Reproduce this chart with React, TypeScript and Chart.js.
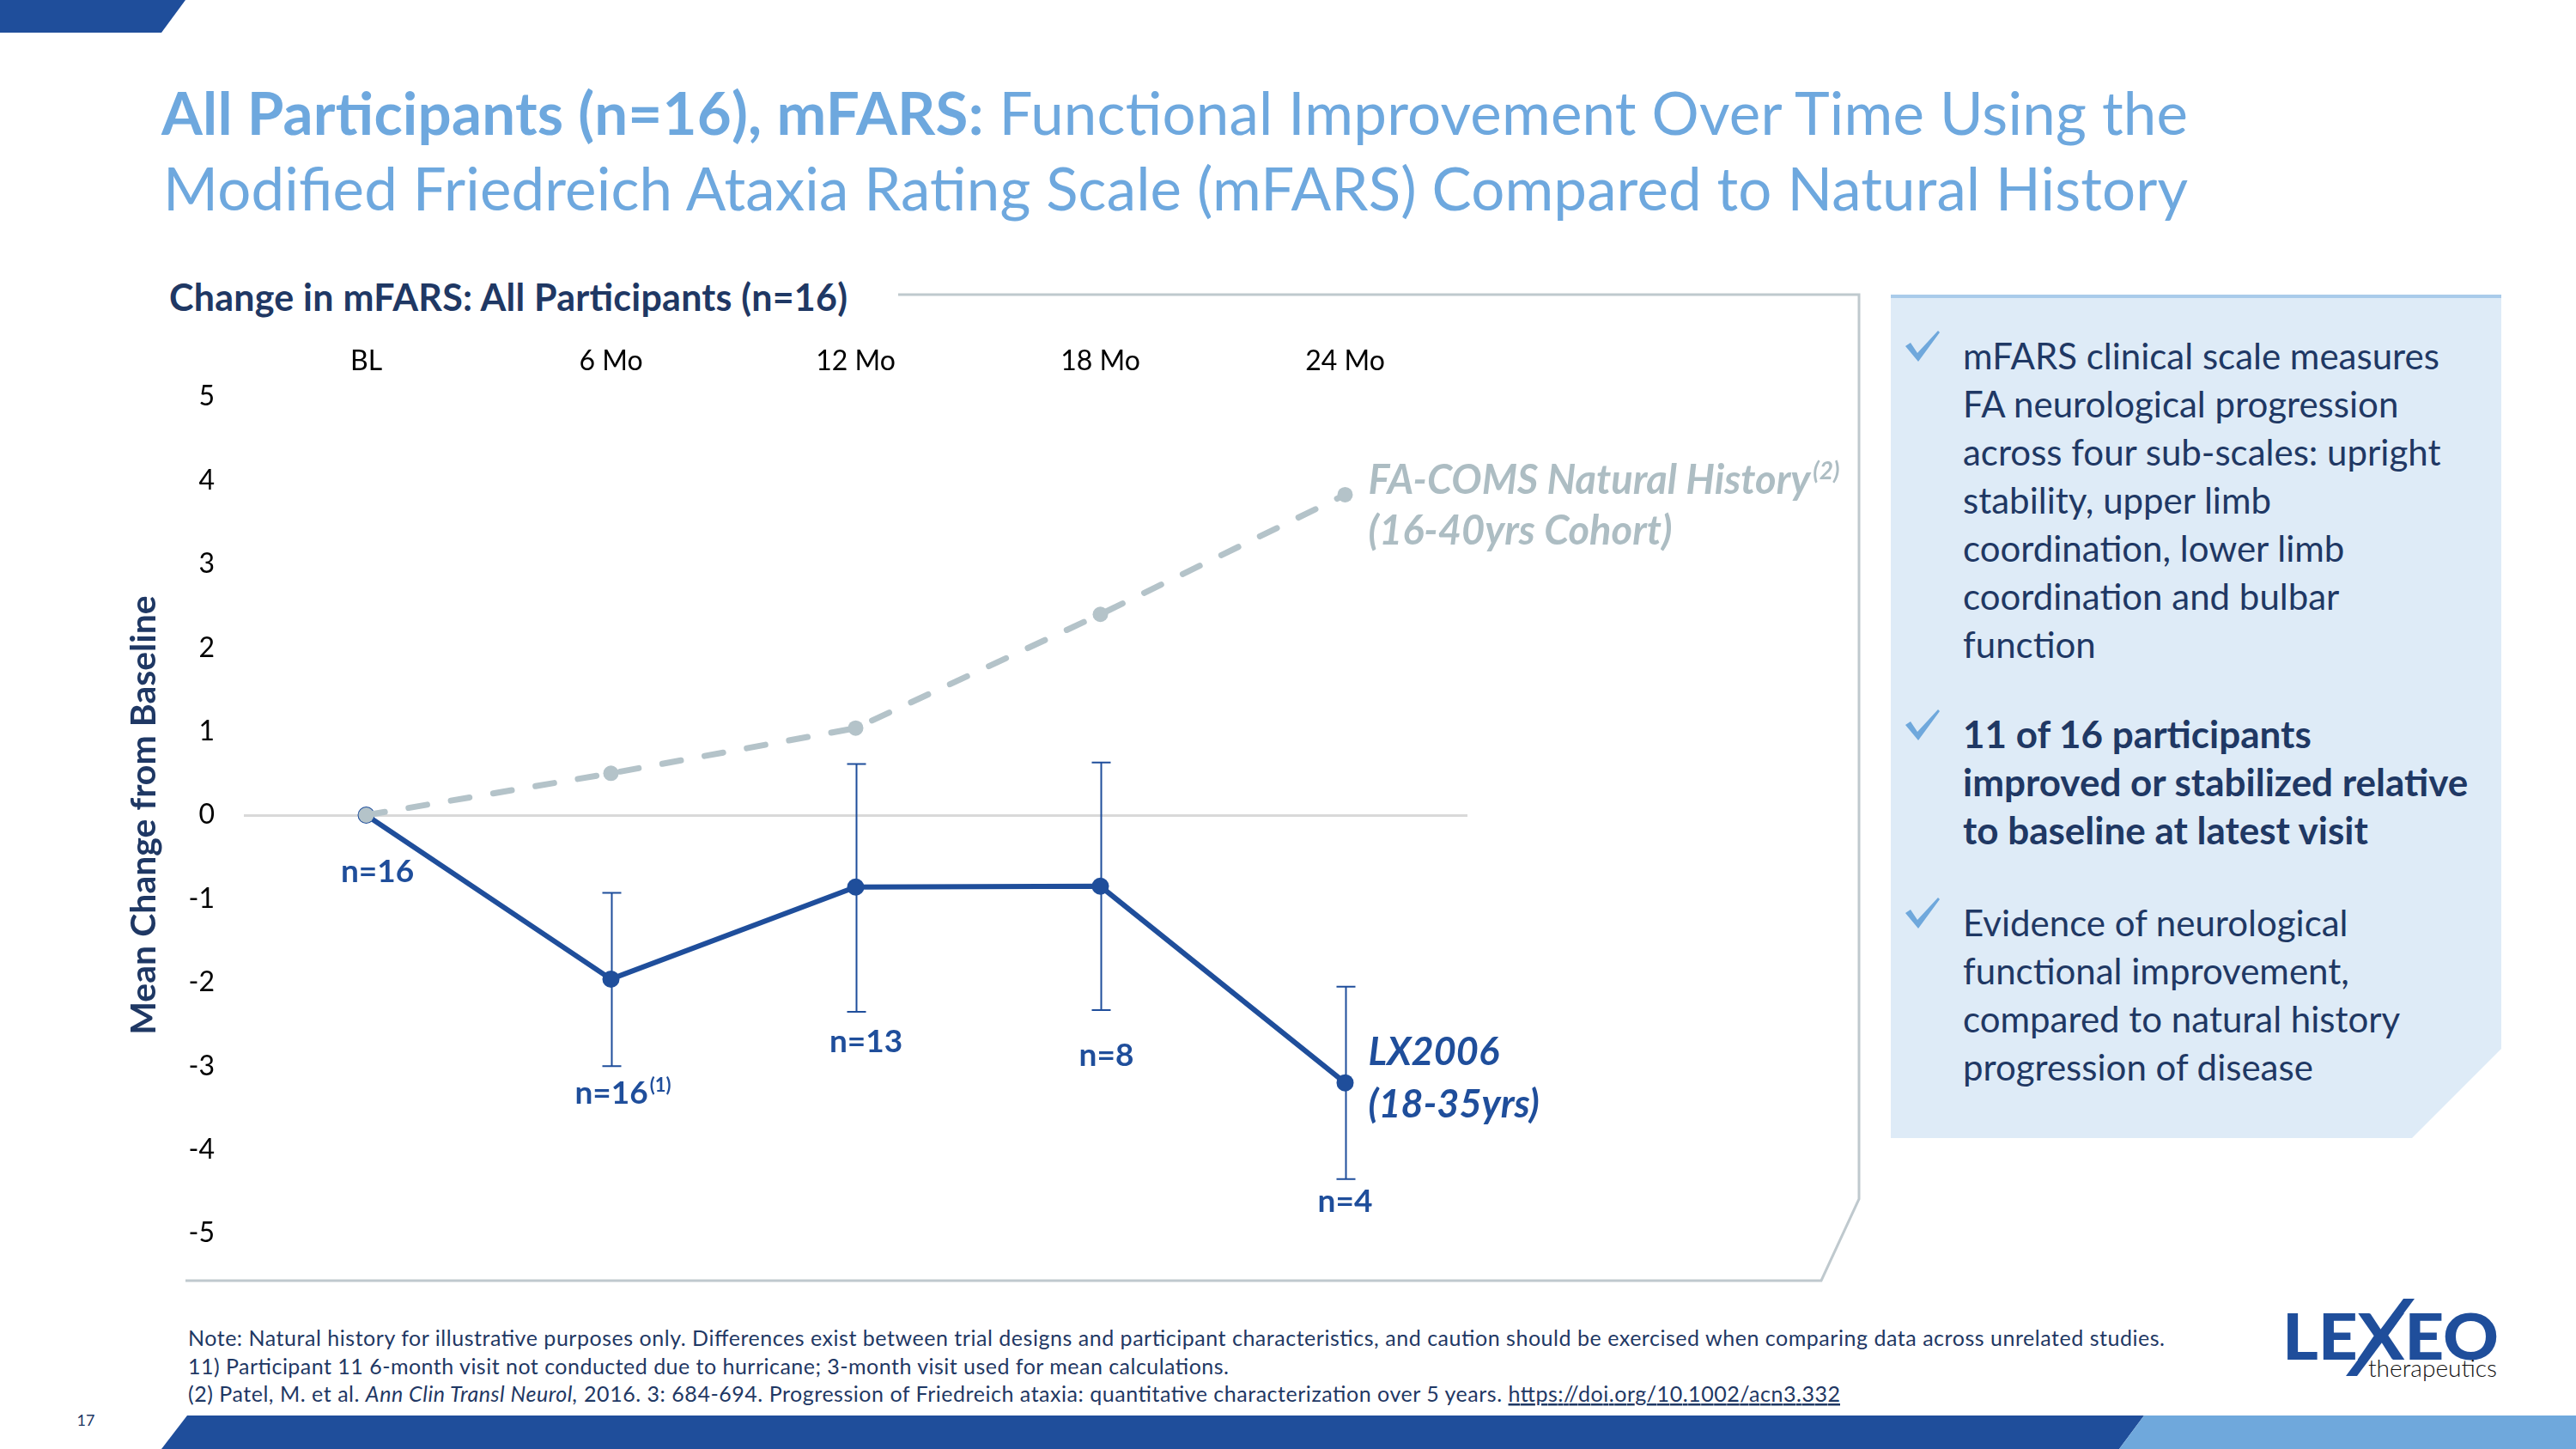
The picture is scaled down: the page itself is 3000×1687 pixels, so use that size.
import React, { useEffect, useRef } from "react";
import { Chart, registerables } from "chart.js";

Chart.register(...registerables);

// ---- data ----
const visits = ["BL", "6 Mo", "12 Mo", "18 Mo", "24 Mo"];
const lxMean = [0, -1.96, -0.86, -0.85, -3.2];
const lxErrLow: (number | null)[] = [null, -3.0, -2.35, -2.33, -4.35];
const lxErrHigh: (number | null)[] = [null, -0.93, 0.61, 0.63, -2.05];
const nhMean = [0, 0.5, 1.04, 2.4, 3.83];
const nCounts = ["n=16", "n=16", "n=13", "n=8", "n=4"];
const nNotes = ["", "(1)", "", "", ""];
const yMin = -5;
const yMax = 5;

const lxLines = ["LX2006", "(18-35yrs)"];
const nhLines = ["FA-COMS Natural History", "(16-40yrs Cohort)"];
const nhNote = "(2)";

const panelBullets = [
  {
    bold: false,
    lines: [
      "mFARS clinical scale measures",
      "FA neurological progression",
      "across four sub-scales: upright",
      "stability, upper limb",
      "coordination, lower limb",
      "coordination and bulbar",
      "function",
    ],
  },
  {
    bold: true,
    lines: ["11 of 16 participants", "improved or stabilized relative", "to baseline at latest visit"],
  },
  {
    bold: false,
    lines: [
      "Evidence of neurological",
      "functional improvement,",
      "compared to natural history",
      "progression of disease",
    ],
  },
];

// ---- styling / layout ----
const W = 3000;
const H = 1687;
const LX = "#1F4E9B";
const NH = "#B4C3C9";
const NH_TEXT = "#ADBDC3";
const NAVY = "#1F3864";
const TITLE_BLUE = "#6EA8DE";
const FONT = "Lato";
const AREA = { left: 284, right: 1709, top: 462, bottom: 1436 };
// pixel offsets (dx, baseline dy) of the n= labels from each LX2006 point
const nLabelOffsets = [
  [13, 78],
  [14, 145],
  [12, 192],
  [7, 209],
  [0, 150],
];
const bulletBaselines = [430, 871, 1090];
const LINE_STEP = 56;

const annotationPlugin = {
  id: "annotations",
  beforeDatasetsDraw(chart: any) {
    const { ctx, scales } = chart;
    const x = scales.x;
    const y = scales.y;
    ctx.save();
    ctx.strokeStyle = LX;
    ctx.lineWidth = 2;
    lxErrLow.forEach((lo, i) => {
      const hi = lxErrHigh[i];
      if (lo == null || hi == null) return;
      const px = Math.round(x.getPixelForValue(i)) + 0.5;
      const pHi = y.getPixelForValue(hi);
      const pLo = y.getPixelForValue(lo);
      ctx.beginPath();
      ctx.moveTo(px, pHi);
      ctx.lineTo(px, pLo);
      ctx.moveTo(px - 11, pHi);
      ctx.lineTo(px + 11, pHi);
      ctx.moveTo(px - 11, pLo);
      ctx.lineTo(px + 11, pLo);
      ctx.stroke();
    });
    ctx.restore();
  },
  afterDatasetsDraw(chart: any) {
    const { ctx } = chart;
    const nhMeta = chart.getDatasetMeta(0);
    const lxMeta = chart.getDatasetMeta(1);
    ctx.save();
    ctx.textBaseline = "alphabetic";

    // n= labels under the LX2006 points
    lxMeta.data.forEach((pt: any, i: number) => {
      const [dx, dy] = nLabelOffsets[i];
      ctx.font = `bold 37px ${FONT}`;
      const main = nCounts[i];
      const wMain = ctx.measureText(main).width;
      ctx.font = `bold 22px ${FONT}`;
      const wNote = nNotes[i] ? ctx.measureText(nNotes[i]).width + 2 : 0;
      const startX = pt.x + dx - (wMain + wNote) / 2;
      const base = pt.y + dy;
      ctx.fillStyle = LX;
      ctx.textAlign = "left";
      ctx.font = `bold 37px ${FONT}`;
      ctx.fillText(main, startX, base);
      if (nNotes[i]) {
        ctx.font = `bold 22px ${FONT}`;
        ctx.fillText(nNotes[i], startX + wMain + 2, base - 14);
      }
    });

    // series name next to the last point of each line
    const lastNh = nhMeta.data[nhMeta.data.length - 1];
    ctx.fillStyle = NH_TEXT;
    ctx.font = `italic bold 47px ${FONT}`;
    const nx = lastNh.x + 27;
    ctx.fillText(nhLines[0], nx, lastNh.y - 1);
    const w0 = ctx.measureText(nhLines[0]).width;
    ctx.fillText(nhLines[1], nx, lastNh.y + 58);
    ctx.font = `italic bold 28px ${FONT}`;
    ctx.fillText(nhNote, nx + w0 + 3, lastNh.y - 18);

    const lastLx = lxMeta.data[lxMeta.data.length - 1];
    ctx.fillStyle = LX;
    ctx.font = `italic bold 45px ${FONT}`;
    ctx.fillText(lxLines[0], lastLx.x + 27, lastLx.y - 21);
    ctx.fillText(lxLines[1], lastLx.x + 27, lastLx.y + 40);
    ctx.restore();
  },
};

function MfarsChart() {
  const ref = useRef<HTMLCanvasElement | null>(null);
  useEffect(() => {
    if (!ref.current) return;
    const tickFont = { family: FONT, size: 32 };
    const chart = new Chart(ref.current, {
      type: "line",
      data: {
        labels: visits,
        datasets: [
          {
            label: nhLines[0],
            data: nhMean,
            borderColor: NH,
            backgroundColor: NH,
            borderWidth: 7,
            borderDash: [22, 28],
            borderCapStyle: "round",
            pointRadius: 9,
            pointBackgroundColor: NH,
            pointBorderWidth: 0,
            tension: 0,
          },
          {
            label: lxLines[0],
            data: lxMean,
            borderColor: LX,
            backgroundColor: LX,
            borderWidth: 6,
            pointRadius: 10,
            pointBackgroundColor: LX,
            pointBorderWidth: 0,
            tension: 0,
          },
        ],
      },
      options: {
        responsive: false,
        animation: false,
        devicePixelRatio: 1,
        layout: {
          padding: { left: 120, top: AREA.top - 80, right: W - AREA.right, bottom: H - AREA.bottom },
        },
        plugins: { legend: { display: false }, tooltip: { enabled: false } },
        scales: {
          x: {
            position: "top",
            offset: true,
            grid: { display: false },
            border: { display: false },
            ticks: { font: tickFont, color: "#000", padding: 14, maxRotation: 0 },
            afterFit: (s: any) => {
              s.height = 80;
            },
          },
          y: {
            min: yMin,
            max: yMax,
            grid: {
              color: (c: any) => (c.tick && c.tick.value === 0 ? "#D9D9D9" : "rgba(0,0,0,0)"),
              lineWidth: 3,
              drawTicks: false,
            },
            border: { display: false },
            ticks: { stepSize: 1, font: tickFont, color: "#000", padding: 34 },
            title: {
              display: true,
              text: "Mean Change from Baseline",
              color: NAVY,
              font: { family: FONT, size: 41, weight: "bold" },
              padding: { top: 23, bottom: 0 },
            },
            afterFit: (s: any) => {
              s.width = AREA.left - 120;
            },
          },
        },
      },
      plugins: [annotationPlugin],
    } as any);
    return () => chart.destroy();
  }, []);
  return (
    <canvas
      ref={ref}
      width={W}
      height={H}
      style={{ position: "absolute", left: 0, top: 0, width: W, height: H }}
    />
  );
}

function Check({ x, y }: { x: number; y: number }) {
  return (
    <path
      d={`M ${x} ${y + 18} L ${x + 6} ${y + 14} L ${x + 14} ${y + 26} L ${x + 38} ${y} L ${x + 40} ${y + 2} L ${x + 15} ${y + 36} Z`}
      fill="#6FA8DC"
    />
  );
}

export default function App() {
  return (
    <div
      style={{
        position: "absolute",
        left: 0,
        top: 0,
        width: W,
        height: H,
        background: "#fff",
        overflow: "hidden",
      }}
    >
      <svg
        width={W}
        height={H}
        style={{ position: "absolute", left: 0, top: 0 }}
        fontFamily={FONT}
      >
        {/* corner and footer bars */}
        <polygon points="0,0 216,0 188,38 0,38" fill={LX} />
        <polygon points="218,1648 2497,1648 2468,1687 188,1687" fill={LX} />
        <polygon points="2497,1648 3000,1648 3000,1687 2468,1687" fill="#6FA8DC" />

        {/* title */}
        <text x={188} y={157} fontSize={69} fill={TITLE_BLUE} textLength={2360} lengthAdjust="spacing">
          <tspan fontWeight={700}>All Participants (n=16), mFARS:</tspan>
          <tspan> Functional Improvement Over Time Using the</tspan>
        </text>
        <text x={190} y={245} fontSize={69} fill={TITLE_BLUE} textLength={2358} lengthAdjust="spacing">
          Modified Friedreich Ataxia Rating Scale (mFARS) Compared to Natural History
        </text>

        {/* chart frame */}
        <polyline
          points="1046,343 2165,343 2165,1396 2121,1491 216,1491"
          fill="none"
          stroke="#BFC9CE"
          strokeWidth={3}
        />
        <text x={197} y={362} fontSize={43} fontWeight={700} fill={NAVY} textLength={790} lengthAdjust="spacing">
          Change in mFARS: All Participants (n=16)
        </text>

        {/* key points panel */}
        <polygon points="2202,344 2913,344 2913,1221 2809,1325 2202,1325" fill="#DEEBF7" />
        <line x1={2202} y1={345} x2={2913} y2={345} stroke="#A9CBEA" strokeWidth={4} />
        {panelBullets.map((b, bi) => (
          <g key={bi}>
            <Check x={2219} y={bulletBaselines[bi] - 45} />
            {b.lines.map((ln, li) => (
              <text
                key={li}
                x={2286}
                y={bulletBaselines[bi] + li * LINE_STEP}
                fontSize={b.bold ? 44 : 42}
                fontWeight={b.bold ? 700 : 400}
                fill={NAVY}
              >
                {ln}
              </text>
            ))}
          </g>
        ))}

        {/* footnotes */}
        <g fontSize={25} fill={NAVY}>
          <text x={219} y={1567} textLength={2302} lengthAdjust="spacing">
            Note: Natural history for illustrative purposes only. Differences exist between trial designs and participant characteristics, and caution should be exercised when comparing data across unrelated studies.
          </text>
          <text x={219} y={1600} textLength={1212} lengthAdjust="spacing">
            11) Participant 11 6-month visit not conducted due to hurricane; 3-month visit used for mean calculations.
          </text>
          <text x={219} y={1632} textLength={1924} lengthAdjust="spacing">
            <tspan>(2) Patel, M. et al. </tspan>
            <tspan fontStyle="italic">Ann Clin Transl Neurol,</tspan>
            <tspan> 2016. 3: 684-694. Progression of Friedreich ataxia: quantitative characterization over 5 years. </tspan>
            <tspan textDecoration="underline">https://doi.org/10.1002/acn3.332</tspan>
          </text>
        </g>
        <text x={100} y={1660} fontSize={18} fill={NAVY} textAnchor="middle">
          17
        </text>

        {/* logo */}
        <text
          x={2658}
          y={1583}
          fontSize={74}
          fontWeight={900}
          fill={LX}
          textLength={252}
          lengthAdjust="spacingAndGlyphs"
        >
          LEXEO
        </text>
        <polygon points="2799,1512 2812,1512 2745,1602 2732,1602" fill={LX} />
        <text x={2758} y={1603} fontSize={27} fontWeight={300} fill="#111" textLength={150} lengthAdjust="spacingAndGlyphs">
          therapeutics
        </text>
      </svg>
      <MfarsChart />
    </div>
  );
}
